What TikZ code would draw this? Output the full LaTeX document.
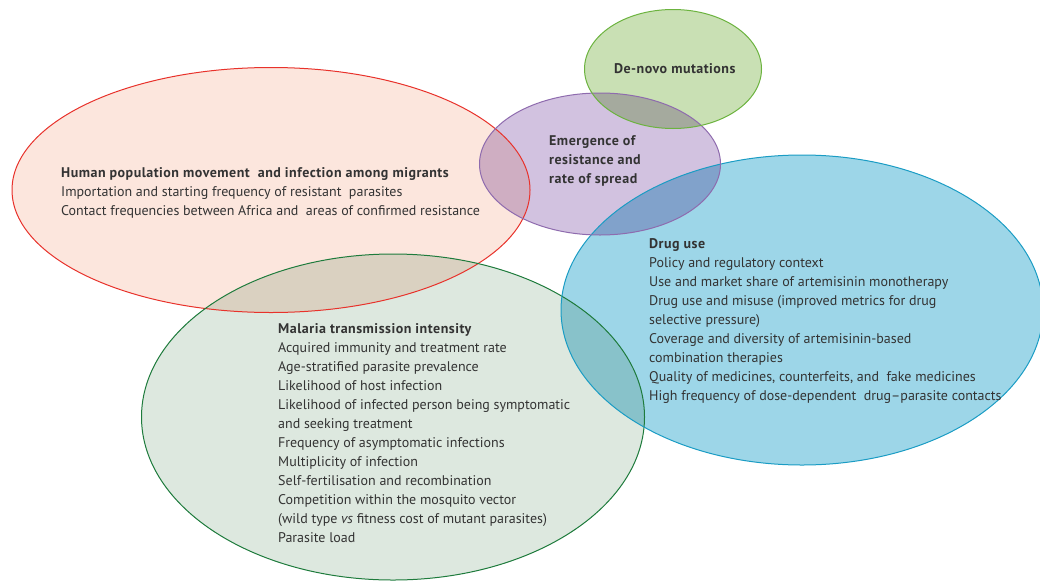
\documentclass[tikz,border=0pt]{standalone}
\usepackage{fontspec}
\setmainfont{PT Sans}[BoldFeatures={LetterSpace=3.5}]
\usetikzlibrary{shapes.geometric}
\definecolor{redfill}{HTML}{FCE6DD}
\definecolor{redline}{HTML}{E8322B}
\definecolor{purfill}{HTML}{D2C2E0}
\definecolor{purline}{HTML}{8E6BAE}
\definecolor{dnfill}{HTML}{C9E0B4}
\definecolor{dnline}{HTML}{6CB33F}
\definecolor{bluefill}{HTML}{9DD6E8}
\definecolor{blueline}{HTML}{1A9CC4}
\definecolor{malfill}{HTML}{DDE8DF}
\definecolor{malline}{HTML}{1E7B3C}
\definecolor{txt}{HTML}{333333}
\tikzset{
  bubble/.style={ellipse, inner sep=0pt, line width=1pt},
  label/.style={inner sep=0pt, align=left, anchor=north west, text=txt,
    font=\fontsize{14}{19}\selectfont},
}
\begin{document}
\begin{tikzpicture}[x=1pt,y=-1pt]
\useasboundingbox (0,0) rectangle (1040,581);
\begin{scope}[blend group=multiply]
  \node[bubble, fill=redfill, minimum width=518pt, minimum height=245pt] (human) at (271,190) {};
  \node[bubble, fill=malfill, minimum width=503pt, minimum height=326pt] (mal) at (393,417) {};
  \node[bubble, fill=bluefill, minimum width=482pt, minimum height=310pt] (drug) at (802,310) {};
  \node[bubble, fill=purfill, minimum width=241pt, minimum height=142pt] (emerg) at (600,164) {};
  \node[bubble, fill=dnfill, minimum width=177pt, minimum height=119pt] (denovo) at (673,69) {};
\end{scope}
\node[bubble, draw=redline, minimum width=518pt, minimum height=245pt] (humanO) at (human) {};
\node[bubble, draw=malline, minimum width=503pt, minimum height=326pt] (malO) at (mal) {};
\node[bubble, draw=blueline, minimum width=482pt, minimum height=310pt] (drugO) at (drug) {};
\node[bubble, draw=purline, minimum width=241pt, minimum height=142pt] (emergO) at (emerg) {};
\node[bubble, draw=dnline, minimum width=177pt, minimum height=119pt] (denovoO) at (denovo) {};

\node[label] (thuman) at (61,167) {\textbf{Human population movement\ \ and infection among migrants}\\
Importation and starting frequency of resistant\ \ parasites\\
Contact frequencies between Africa and\ \ areas of confirmed resistance};

\node[label, anchor=center] (tdenovo) at (675,69) {\textbf{De-novo mutations}};

\node[label] (temerg) at (549,135) {\textbf{Emergence of}\\\textbf{resistance and}\\\textbf{rate of spread}};

\node[label] (tdrug) at (649,238) {\textbf{Drug use}\\
Policy and regulatory context\\
Use and market share of artemisinin monotherapy\\
Drug use and misuse (improved metrics for drug\\
selective pressure)\\
Coverage and diversity of artemisinin-based\\
combination therapies\\
Quality of medicines, counterfeits, and\ \ fake medicines\\
High frequency of dose-dependent\ \ drug--parasite contacts};

\node[label] (tmal) at (278,323) {\textbf{Malaria transmission intensity}\\
Acquired immunity and treatment rate\\
Age-stratified parasite prevalence\\
Likelihood of host infection\\
Likelihood of infected person being symptomatic\\
and seeking treatment\\
Frequency of asymptomatic infections\\
Multiplicity of infection\\
Self-fertilisation and recombination\\
Competition within the mosquito vector\\
(wild type \textit{vs} fitness cost of mutant parasites)\\
Parasite load};
\end{tikzpicture}
\end{document}
